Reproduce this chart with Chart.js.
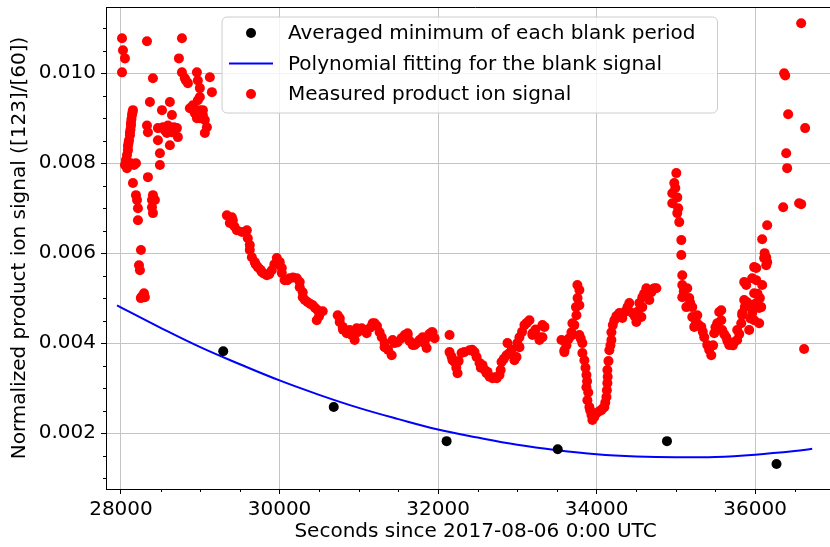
<!DOCTYPE html>
<html>
<head>
<meta charset="utf-8">
<script src="https://cdn.jsdelivr.net/npm/chart.js@4.4.1/dist/chart.umd.min.js"></script>
<style>
  html, body { margin: 0; padding: 0; background: #fff; overflow: hidden; width: 830px; height: 547px; }
</style>
</head>
<body>
<canvas id="chartSignal" width="850" height="547"></canvas>
<script>
// averaged minimum of each blank period
const blankTime = [29290, 30684, 32108, 33510, 34888, 36270];
const blankSignal = [0.00382, 0.00258, 0.00182, 0.00164, 0.00182, 0.00131];

// polynomial fit through the blank minima
const fitTime = [27950, 28500, 29000, 29500, 30000, 30500, 31000, 31500, 32000, 32500,
                 33000, 33500, 34000, 34500, 35000, 35500, 36000, 36500, 36720];
const fitSignal = [0.00484, 0.00434, 0.00391, 0.00353, 0.00317, 0.00285, 0.00256, 0.00231, 0.00208, 0.00190,
                   0.00174, 0.00162, 0.00153, 0.00148, 0.00146, 0.00147, 0.00152, 0.00160, 0.00165];

// measured product ion signal [seconds, signal]
const measured = [
  [28013,0.01078],[28025,0.01051],[28050,0.01033],[28013,0.01002],
  [28151,0.00918],[28145,0.00913],[28139,0.00907],[28132,0.00898],[28126,0.00890],[28126,0.00884],[28120,0.00875],
  [28113,0.00868],[28113,0.00862],[28101,0.00851],[28095,0.00845],[28088,0.00838],[28088,0.00829],[28076,0.00818],
  [28063,0.00807],[28050,0.00796],[28076,0.00789],[28126,0.00800],[28164,0.00796],[28189,0.00800],
  [28151,0.00756],[28189,0.00729],[28202,0.00718],[28214,0.00700],[28214,0.00673],[28252,0.00607],
  [28227,0.00573],[28239,0.00562],[28265,0.00504],[28302,0.00502],[28290,0.00511],[28250,0.00500],
  [28328,0.01071],
  [28340,0.00869],[28328,0.00884],[28365,0.00936],[28340,0.00769],[28403,0.00989],
  [28391,0.00718],[28403,0.00729],[28428,0.00718],[28391,0.00702],[28403,0.00689],
  [28466,0.00878],[28529,0.00880],[28517,0.00918],[28466,0.00851],[28491,0.00822],[28491,0.00796],
  [28554,0.00873],[28592,0.00884],[28617,0.00936],[28643,0.00907],[28580,0.00867],[28643,0.00869],
  [28706,0.00878],[28718,0.00858],[28617,0.00840],[28668,0.00880],
  [28769,0.01078],[28731,0.01033],[28769,0.01002],[28806,0.00989],[28844,0.00978],[28819,0.00984],
  [28958,0.01002],[28970,0.00984],[28995,0.00967],[29121,0.00991],[29147,0.00958],[28869,0.00922],
  [28932,0.00911],[28958,0.00900],[28995,0.00918],[29033,0.00918],[29058,0.00896],[29084,0.00880],
  [29058,0.00867],[28995,0.00947],[28970,0.00940],[28907,0.00929],[29033,0.00907],[28995,0.00900],
  [29336,0.00684],[29399,0.00680],[29411,0.00673],[29373,0.00667],[29430,0.00660],[29462,0.00651],
  [29525,0.00647],[29588,0.00651],[29600,0.00633],[29625,0.00618],[29625,0.00607],[29651,0.00591],
  [29688,0.00580],[29700,0.00575],[29726,0.00569],[29760,0.00563],[29777,0.00558],[29800,0.00555],
  [29840,0.00551],[29870,0.00553],[29903,0.00562],[29935,0.00575],[29966,0.00589],[30003,0.00580],
  [30029,0.00567],[30029,0.00556],[30066,0.00540],[30100,0.00540],[30129,0.00544],[30170,0.00546],
  [30218,0.00544],[30255,0.00536],[30255,0.00524],[30293,0.00513],[30293,0.00502],[30320,0.00496],
  [30356,0.00491],[30390,0.00487],[30419,0.00484],[30450,0.00478],[30482,0.00473],[30545,0.00471],
  [30470,0.00451],[30500,0.00460],[30507,0.00469],
  [30734,0.00462],[30760,0.00455],[30759,0.00447],[30797,0.00436],[30800,0.00430],[30848,0.00422],
  [30885,0.00429],[30910,0.00418],[30948,0.00407],[30974,0.00433],[30986,0.00424],[31037,0.00433],
  [31074,0.00429],[31100,0.00422],[31150,0.00435],[31175,0.00444],[31200,0.00444],[31230,0.00438],
  [31263,0.00424],[31290,0.00413],[31326,0.00400],[31326,0.00391],[31370,0.00385],[31415,0.00373],
  [31427,0.00407],[31450,0.00400],[31490,0.00402],[31541,0.00411],[31580,0.00418],[31616,0.00422],
  [31616,0.00418],[31640,0.00405],[31679,0.00396],[31704,0.00396],[31730,0.00400],[31767,0.00407],
  [31805,0.00413],[31830,0.00400],[31856,0.00389],[31868,0.00413],[31890,0.00420],[31919,0.00424],
  [31931,0.00424],[31956,0.00411],
  [32145,0.00418],[32145,0.00380],[32170,0.00370],[32183,0.00362],[32208,0.00358],[32230,0.00345],
  [32246,0.00333],[32260,0.00360],[32297,0.00378],[32330,0.00380],[32397,0.00384],[32430,0.00385],
  [32460,0.00380],[32486,0.00369],[32523,0.00356],[32540,0.00345],[32561,0.00351],[32590,0.00340],
  [32612,0.00333],[32624,0.00336],[32650,0.00325],[32687,0.00322],[32712,0.00324],[32740,0.00322],
  [32775,0.00329],[32790,0.00340],[32801,0.00358],[32830,0.00365],[32864,0.00373],[32876,0.00400],
  [32901,0.00378],[32930,0.00385],[32964,0.00362],[32990,0.00369],[33000,0.00400],[33027,0.00413],
  [33027,0.00391],[33060,0.00425],[33090,0.00440],[33120,0.00445],[33153,0.00451],[33191,0.00422],
  [33191,0.00418],[33230,0.00430],[33279,0.00413],[33279,0.00407],[33317,0.00440],[33342,0.00436],
  [33317,0.00413],
  [33557,0.00407],[33594,0.00384],[33594,0.00380],[33620,0.00395],[33650,0.00410],[33683,0.00424],
  [33695,0.00444],[33695,0.00418],[33720,0.00440],[33740,0.00480],[33746,0.00462],[33760,0.00500],
  [33758,0.00529],[33783,0.00518],[33783,0.00484],[33783,0.00418],[33800,0.00410],[33821,0.00400],
  [33821,0.00378],[33846,0.00362],[33860,0.00345],[33872,0.00329],[33880,0.00315],[33872,0.00302],
  [33895,0.00290],[33884,0.00273],[33909,0.00258],[33920,0.00250],[33935,0.00240],[33947,0.00229],
  [33970,0.00235],[33998,0.00244],[34030,0.00248],[34061,0.00251],[34080,0.00255],[34098,0.00258],
  [34110,0.00268],[34124,0.00280],[34130,0.00295],[34136,0.00311],[34140,0.00325],[34136,0.00340],
  [34150,0.00360],[34161,0.00384],[34175,0.00395],[34187,0.00407],[34187,0.00424],[34205,0.00440],
  [34224,0.00451],[34250,0.00460],[34287,0.00467],[34325,0.00456],[34360,0.00470],[34390,0.00480],
  [34413,0.00489],[34451,0.00467],[34480,0.00460],[34502,0.00447],[34520,0.00470],[34539,0.00489],
  [34565,0.00458],[34577,0.00480],[34577,0.00502],[34600,0.00510],[34628,0.00522],[34650,0.00515],
  [34665,0.00496],[34691,0.00513],[34710,0.00520],[34728,0.00522],[34754,0.00522],
  [35006,0.00778],[34993,0.00745],[34980,0.00756],[34955,0.00733],[35018,0.00724],[34955,0.00711],
  [35030,0.00700],[35018,0.00689],[35043,0.00669],[35069,0.00629],[35069,0.00596],[35081,0.00551],
  [35081,0.00529],[35144,0.00522],[35081,0.00502],[35100,0.00515],[35169,0.00500],[35180,0.00490],
  [35132,0.00480],[35207,0.00480],[35207,0.00458],[35250,0.00450],[35270,0.00462],[35290,0.00440],
  [35232,0.00436],[35321,0.00436],[35340,0.00425],[35358,0.00413],[35396,0.00396],[35420,0.00385],
  [35447,0.00373],[35470,0.00395],[35484,0.00422],[35500,0.00435],[35522,0.00444],[35547,0.00469],
  [35573,0.00473],[35573,0.00451],[35585,0.00429],[35610,0.00420],[35636,0.00413],[35650,0.00405],
  [35673,0.00396],[35699,0.00400],[35720,0.00395],[35736,0.00402],[35774,0.00407],[35774,0.00429],
  [35800,0.00420],[35825,0.00444],[35837,0.00467],[35837,0.00462],[35862,0.00496],[35870,0.00480],
  [35862,0.00536],[35888,0.00529],[35900,0.00491],[35925,0.00429],[35940,0.00455],[35951,0.00484],
  [35963,0.00544],[35963,0.00467],[35988,0.00569],[35988,0.00511],[35988,0.00451],[36014,0.00567],
  [36014,0.00540],[36014,0.00489],[36030,0.00510],[36051,0.00478],[36060,0.00500],[36051,0.00444],
  [36077,0.00480],[36089,0.00529],[36089,0.00631],[36114,0.00589],[36120,0.00600],[36140,0.00591],
  [36140,0.00573],[36152,0.00580],[36152,0.00662],
  [36354,0.00702],[36366,0.01000],[36380,0.00995],[36392,0.00822],[36404,0.00789],[36417,0.00909],
  [36555,0.00711],[36581,0.00709],[36581,0.01111],[36618,0.00387],[36631,0.00878]
];

// the plot runs on past the right edge of the page
const xLimits = [27811, 37134];
const yLimits = [0.000756, 0.011473];
const xTicks = [28000, 30000, 32000, 34000, 36000];
const yTicks = [0.002, 0.004, 0.006, 0.008, 0.010];

const legendItems = [
  { label: 'Averaged minimum of each blank period', kind: 'dot', color: '#000000' },
  { label: 'Polynomial fitting for the blank signal', kind: 'line', color: '#0000ff' },
  { label: 'Measured product ion signal', kind: 'dot', color: '#ff0000' }
];

const FONT = '"DejaVu Sans", "Liberation Sans", sans-serif';

// small minor tick marks plus the top frame line
const minorTicks = {
  id: 'minorTicks',
  afterDraw(chart) {
    const ctx = chart.ctx;
    const area = chart.chartArea;
    const xs = chart.scales.x, ys = chart.scales.y;
    ctx.save();
    ctx.strokeStyle = '#000';
    ctx.lineWidth = 1;
    ctx.beginPath();
    for (let k = Math.ceil(xs.min / 500); k * 500 <= xs.max; k++) {
      if (k % 4 === 0) continue;
      const px = Math.round(xs.getPixelForValue(k * 500)) + 0.5;
      ctx.moveTo(px, area.bottom);
      ctx.lineTo(px, area.bottom + 3);
    }
    for (let k = Math.ceil(ys.min / 0.0005); k * 0.0005 <= ys.max; k++) {
      if (k % 4 === 0) continue;
      const py = Math.round(ys.getPixelForValue(k * 0.0005)) + 0.5;
      ctx.moveTo(area.left, py);
      ctx.lineTo(area.left - 3, py);
    }
    ctx.moveTo(area.left, area.top + 0.5);
    ctx.lineTo(area.right, area.top + 0.5);
    ctx.stroke();
    ctx.restore();
  }
};

// legend box drawn inside the plot, upper middle
const boxLegend = {
  id: 'boxLegend',
  afterDraw(chart) {
    const ctx = chart.ctx;
    ctx.save();
    ctx.font = '20px ' + FONT;
    const textW = Math.max(...legendItems.map(it => ctx.measureText(it.label).width));
    const x0 = 222, y0 = 17, h = 96, textX = 288;
    const w = textX - x0 + textW + 22;
    const r = 5;
    ctx.beginPath();
    ctx.moveTo(x0 + r, y0);
    ctx.arcTo(x0 + w, y0, x0 + w, y0 + h, r);
    ctx.arcTo(x0 + w, y0 + h, x0, y0 + h, r);
    ctx.arcTo(x0, y0 + h, x0, y0, r);
    ctx.arcTo(x0, y0, x0 + w, y0, r);
    ctx.closePath();
    ctx.fillStyle = 'rgba(255,255,255,0.8)';
    ctx.fill();
    ctx.strokeStyle = '#cccccc';
    ctx.lineWidth = 1;
    ctx.stroke();

    legendItems.forEach((it, i) => {
      const cy = y0 + 16 + i * 30.5;
      if (it.kind === 'dot') {
        ctx.beginPath();
        ctx.arc(251, cy, 5, 0, Math.PI * 2);
        ctx.fillStyle = it.color;
        ctx.fill();
      } else {
        ctx.beginPath();
        ctx.moveTo(229, cy);
        ctx.lineTo(273, cy);
        ctx.strokeStyle = it.color;
        ctx.lineWidth = 2;
        ctx.stroke();
      }
      ctx.fillStyle = '#000';
      ctx.textBaseline = 'middle';
      ctx.fillText(it.label, textX, cy + 1);
    });
    ctx.restore();
  }
};

const ctx = document.getElementById('chartSignal').getContext('2d');
new Chart(ctx, {
  type: 'scatter',
  data: {
    datasets: [
      {
        label: legendItems[0].label,
        data: blankTime.map((t, i) => ({ x: t, y: blankSignal[i] })),
        backgroundColor: '#000000',
        borderWidth: 0,
        pointRadius: 5,
        order: 1
      },
      {
        label: legendItems[1].label,
        data: fitTime.map((t, i) => ({ x: t, y: fitSignal[i] })),
        showLine: true,
        borderColor: '#0000ff',
        borderWidth: 2,
        pointRadius: 0,
        tension: 0.4,
        order: 2
      },
      {
        label: legendItems[2].label,
        data: measured.map(p => ({ x: p[0], y: p[1] })),
        backgroundColor: '#ff0000',
        borderWidth: 0,
        pointRadius: 5,
        order: 3
      }
    ]
  },
  options: {
    responsive: false,
    animation: false,
    layout: { padding: { top: 7, right: 0, left: 0, bottom: 0 } },
    plugins: {
      legend: { display: false },
      tooltip: { enabled: false }
    },
    scales: {
      x: {
        type: 'linear',
        min: xLimits[0],
        max: xLimits[1],
        afterBuildTicks: s => { s.ticks = xTicks.map(v => ({ value: v })); },
        afterFit: s => { s.height = 58; s.paddingLeft = 0; s.paddingRight = 0; },
        ticks: {
          autoSkip: false,
          maxRotation: 0,
          padding: 4,
          color: '#000',
          font: { family: FONT, size: 20 },
          callback: v => String(v)
        },
        grid: { color: '#c4c4c4', lineWidth: 1, tickLength: 5, tickColor: '#000' },
        border: { color: '#000', width: 1 },
        title: {
          display: true,
          text: 'Seconds since 2017-08-06 0:00 UTC',
          color: '#000',
          font: { family: FONT, size: 20 },
          padding: { top: 0, bottom: 3 }
        }
      },
      y: {
        type: 'linear',
        min: yLimits[0],
        max: yLimits[1],
        afterBuildTicks: s => { s.ticks = yTicks.map(v => ({ value: v })); },
        afterFit: s => { s.width = 106; s.paddingTop = 0; s.paddingBottom = 0; },
        ticks: {
          autoSkip: false,
          padding: 5,
          color: '#000',
          font: { family: FONT, size: 20 },
          callback: v => v.toFixed(3)
        },
        grid: { color: '#c4c4c4', lineWidth: 1, tickLength: 5, tickColor: '#000' },
        border: { color: '#000', width: 1 },
        title: {
          display: true,
          text: 'Normalized product ion signal ([123]/[60])',
          color: '#000',
          font: { family: FONT, size: 20 },
          padding: { top: 8, bottom: 0 }
        }
      }
    }
  },
  plugins: [minorTicks, boxLegend]
});
</script>
</body>
</html>
